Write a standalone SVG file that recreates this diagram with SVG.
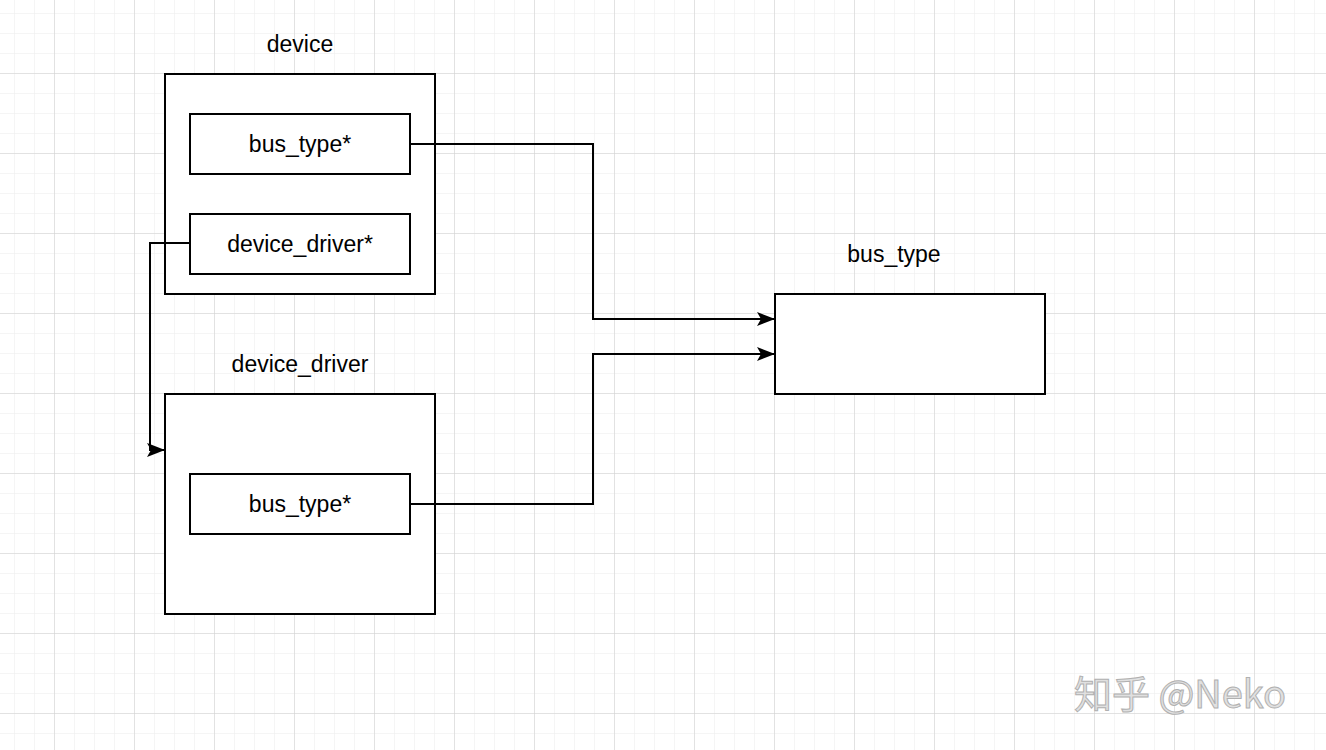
<svg xmlns="http://www.w3.org/2000/svg" width="1326" height="750" viewBox="0 0 1326 750">
<defs>
<pattern id="minor" x="14" y="13" width="20" height="20" patternUnits="userSpaceOnUse"><path d="M0 0V20M0 0H20" stroke="#ebebeb" stroke-width="1" fill="none"/></pattern>
<pattern id="major" x="54" y="73" width="80" height="80" patternUnits="userSpaceOnUse"><path d="M0 0V80M0 0H80" stroke="#d0d0d0" stroke-width="1" fill="none"/></pattern>
<marker id="arr" markerWidth="18" markerHeight="14" refX="17" refY="7" orient="auto" markerUnits="userSpaceOnUse"><path d="M0 0L18 7L0 14L4 7Z" fill="#000"/></marker>
</defs>
<style>
.box{fill:#fff;stroke:#000;stroke-width:2}
.t{font-family:"Liberation Sans",Arial,sans-serif;font-size:23px;fill:#000;text-anchor:middle}
.c{fill:none;stroke:#000;stroke-width:2}
</style>
<rect width="1326" height="750" fill="#fff"/>
<rect width="1326" height="750" fill="url(#minor)"/>
<rect width="1326" height="750" fill="url(#major)"/>
<g id="device">
<text class="t" x="300" y="52">device</text>
<rect class="box" x="165" y="74" width="270" height="220"/>
</g>
<g id="device-bus_type">
<rect class="box" x="190" y="114" width="220" height="60"/>
<text class="t" x="300" y="152">bus_type*</text>
</g>
<g id="device-driver-ptr">
<rect class="box" x="190" y="214" width="220" height="60"/>
<text class="t" x="300" y="252">device_driver*</text>
</g>
<g id="device_driver">
<text class="t" x="300" y="372">device_driver</text>
<rect class="box" x="165" y="394" width="270" height="220"/>
</g>
<g id="driver-bus_type">
<rect class="box" x="190" y="474" width="220" height="60"/>
<text class="t" x="300" y="512">bus_type*</text>
</g>
<g id="bus_type">
<text class="t" x="894" y="262">bus_type</text>
<rect class="box" x="775" y="294" width="270" height="100"/>
</g>
<g id="connectors">
<path class="c" d="M410 144H593V319H774" marker-end="url(#arr)"/>
<path class="c" d="M410 504H593V354H774" marker-end="url(#arr)"/>
<path class="c" d="M190 243H150V450H164" marker-end="url(#arr)"/>
</g>
<text x="1180" y="708" font-family="'Noto Sans CJK SC',sans-serif" font-size="38" fill="#e0e0e0" stroke="#b0b0b0" stroke-width="1" text-anchor="middle">知乎 @Neko</text>
</svg>
